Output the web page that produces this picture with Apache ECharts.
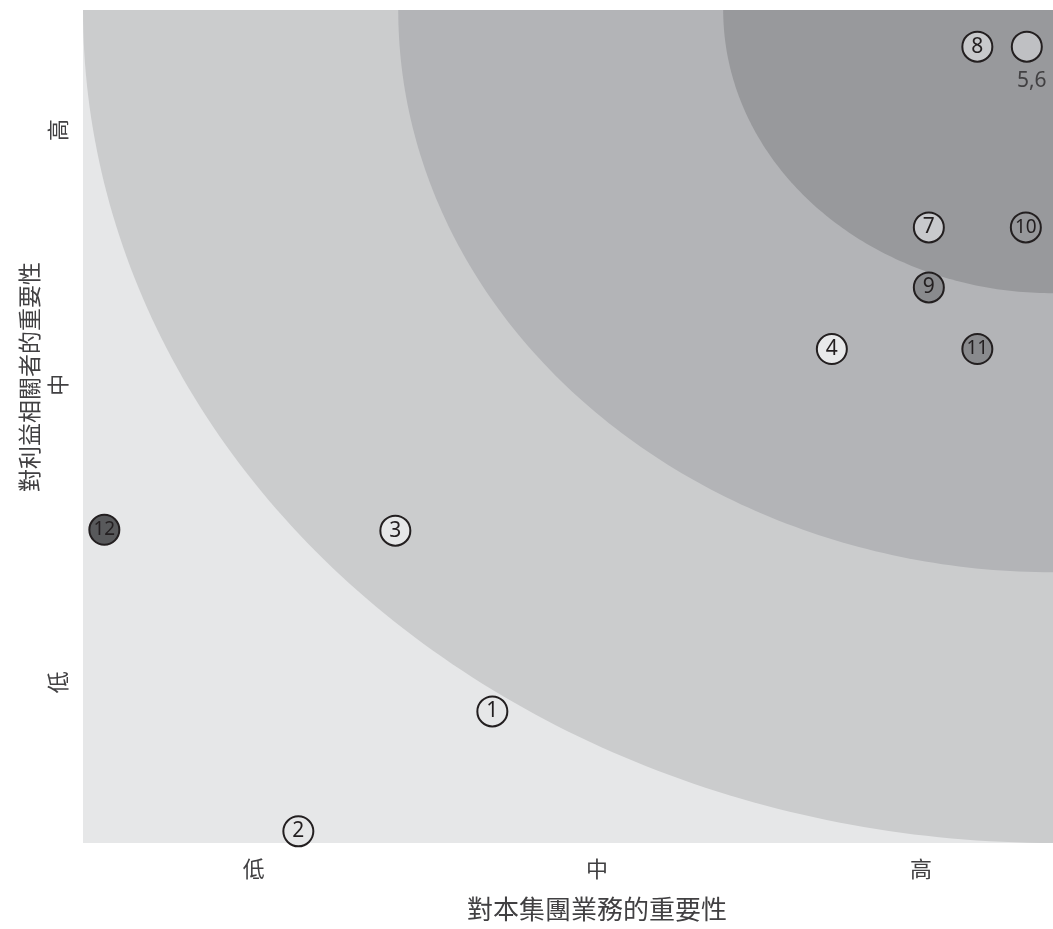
<!DOCTYPE html>
<html>
<head>
<meta charset="utf-8">
<script src="https://cdn.jsdelivr.net/npm/echarts@6/dist/echarts.min.js"></script>
<style>html,body{margin:0;padding:0;background:#fff;}#c{width:1053px;height:929px;}</style>
</head>
<body>
<div id="c"></div>
<script>
// Tick labels and their positions on 0-100 scales
const xTickLabels = ['低', '中', '高'];
const xTickValues = [17.6, 53, 86.4];
const yTickLabels = ['低', '中', '高'];
const yTickValues = [19.3, 55, 85.6];

// Background zones: radii (in axis units) around the top-right corner
const zoneRadii = [100, 67.5, 34];
const zoneColors = ['#cbcccd', '#b3b4b7', '#98999c'];

// Issues
const issueLabels = ['1', '2', '3', '4', '5,6', '7', '8', '9', '10', '11', '12'];
const issueX = [42.2, 22.2, 32.2, 77.2, 97.3, 87.2, 92.2, 87.2, 97.2, 92.2, 2.2];
const issueY = [15.8, 1.4, 37.5, 59.3, 95.6, 73.9, 95.6, 66.7, 73.9, 59.3, 37.6];
const issueFill = ['#e6e7e8', '#e6e7e8', '#e6e7e8', '#e8e9ea', '#bfc0c3', '#c8c9cc', '#c8c9cb', '#898a8d', '#97989b', '#898a8d', '#58595b'];

const xName = '對本集團業務的重要性';
const yName = '對利益相關者的重要性';

const chart = echarts.init(document.getElementById('c'));
const cjk = '"Noto Sans CJK TC", "Noto Sans CJK SC", sans-serif';
const num = '"Noto Sans", "Open Sans", sans-serif';

const scatterData = issueLabels.map((l, i) => {
  const isCombo = l.indexOf(',') >= 0;
  return {
    value: [issueX[i], issueY[i]],
    name: l,
    itemStyle: { color: issueFill[i] },
    label: isCombo ? {
      show: true, position: 'bottom', distance: 8, offset: [5, 0], formatter: l,
      fontSize: 21, color: '#414042', fontFamily: num
    } : {
      show: true, position: 'inside', formatter: l,
      fontSize: l.length > 1 ? 19 : 21, color: '#231f20',
      fontFamily: num
    }
  };
});

chart.setOption({
  animation: false,
  grid: { left: 83, right: 0, top: 10, bottom: 86, show: true, backgroundColor: '#e6e7e8', borderWidth: 0 },
  xAxis: {
    type: 'value', min: 0, max: 100,
    axisLine: { show: false }, axisTick: { show: false }, splitLine: { show: false },
    axisLabel: {
      customValues: xTickValues,
      formatter: v => { const k = xTickValues.indexOf(v); return k >= 0 ? xTickLabels[k] : ''; },
      fontSize: 22, color: '#414042', fontFamily: cjk, margin: 15
    }
  },
  yAxis: {
    type: 'value', min: 0, max: 100,
    axisLine: { show: false }, axisTick: { show: false }, splitLine: { show: false },
    axisLabel: {
      customValues: yTickValues,
      formatter: v => { const k = yTickValues.indexOf(v); return k >= 0 ? yTickLabels[k] : ''; },
      fontSize: 22, color: '#414042', fontFamily: cjk, margin: 14, rotate: 90
    }
  },
  graphic: [
    { type: 'text', x: 597, y: 909, style: { text: xName, fill: '#414042', font: '26px ' + cjk, textAlign: 'center', textVerticalAlign: 'middle' } },
    { type: 'text', x: 29, y: 377, rotation: Math.PI / 2, style: { text: yName, fill: '#414042', font: '23px ' + cjk, textAlign: 'center', textVerticalAlign: 'middle' } }
  ],
  series: [
    {
      type: 'custom',
      coordinateSystem: 'cartesian2d',
      silent: true,
      z: 1,
      data: zoneRadii.map((r, i) => ({ value: [100 - r, 100 - r, r], itemStyle: { color: zoneColors[i] } })),
      encode: { x: 0, y: 1 },
      renderItem: function (params, api) {
        const r = api.value(2);
        const pts = [api.coord([100, 100])];
        const n = 120;
        for (let k = 0; k <= n; k++) {
          const t = (Math.PI / 2) * k / n;
          pts.push(api.coord([100 - r * Math.cos(t), 100 - r * Math.sin(t)]));
        }
        return { type: 'polygon', shape: { points: pts }, style: { fill: api.visual('color') } };
      }
    },
    {
      type: 'scatter',
      z: 5,
      clip: false,
      symbol: 'circle',
      symbolSize: 30,
      itemStyle: { borderColor: '#231f20', borderWidth: 2, opacity: 1 },
      data: scatterData
    }
  ]
});
</script>
</body>
</html>
